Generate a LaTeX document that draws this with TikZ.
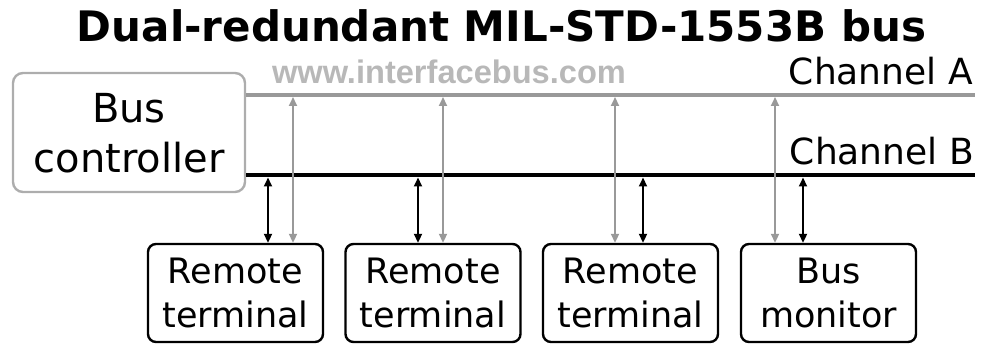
\documentclass[tikz,border=0pt]{standalone}
\usepackage{fontspec}
\setmainfont{DejaVu Sans}
\newfontfamily\webfont{Liberation Sans}
\usetikzlibrary{arrows.meta}
\definecolor{busgrey}{HTML}{999999}
\definecolor{framegrey}{HTML}{ADADAD}
\definecolor{webgrey}{HTML}{B8B8B8}
\tikzset{
  unitbox/.style={draw=black, line width=2.4pt, rounded corners=8pt,
    minimum width=175pt, minimum height=98pt, inner sep=0pt},
  ctrlbox/.style={draw=framegrey, line width=2.4pt, rounded corners=10pt,
    minimum width=232pt, minimum height=119pt, inner sep=0pt},
  boxtext/.style={anchor=base, inner sep=0pt, font=\fontsize{35}{42}\selectfont},
  ctrltext/.style={anchor=base, inner sep=0pt, font=\fontsize{40}{48}\selectfont},
  chantext/.style={anchor=base east, inner sep=0pt, font=\fontsize{36}{43}\selectfont},
  busA/.style={draw=busgrey, line width=4pt},
  busB/.style={draw=black, line width=4.5pt},
  tapA/.style={draw=busgrey, line width=2pt,
    {Triangle[length=9pt,width=8pt]}-{Triangle[length=9pt,width=8pt]}},
  tapB/.style={draw=black, line width=2pt,
    {Triangle[length=9pt,width=8pt]}-{Triangle[length=9pt,width=8pt]}},
}
\begin{document}
\begin{tikzpicture}[x=1pt, y=-1pt]
\useasboundingbox (0,0) rectangle (981,347);

% title and web address
\node[anchor=base, inner sep=0pt, font=\bfseries\fontsize{42}{50}\selectfont]
  (title) at (501.5,42) {Dual-redundant MIL-STD-1553B bus};
\node[anchor=base, inner sep=0pt, text=webgrey, font=\webfont\bfseries\fontsize{32.6}{38}\selectfont]
  (web) at (449,84) {www.interfacebus.com};

% bus controller
\node[ctrlbox] (bc) at (129,132.5) {};
\node[ctrltext] (bct1) at (bc.center |- 0,123) {Bus};
\node[ctrltext] (bct2) at (bc.center |- 0,173) {controller};

% terminals and monitor
\node[unitbox] (rt1) at (235.5,293) {};
\node[unitbox] (rt2) at (433,293) {};
\node[unitbox] (rt3) at (630.5,293) {};
\node[unitbox] (bm)  at (828.5,293) {};
\foreach \n/\a/\b in {rt1/Remote/terminal, rt2/Remote/terminal, rt3/Remote/terminal, bm/Bus/monitor}{
  \node[boxtext] (\n-l1) at (\n.center |- 0,283) {\a};
  \node[boxtext] (\n-l2) at (\n.center |- 0,327) {\b};
}

% the two bus channels
\coordinate (aW) at (bc.east |- 0,95);
\coordinate (aE) at (975,95);
\coordinate (bW) at (bc.east |- 0,175);
\coordinate (bE) at (975,175);
\draw[busA] (aW) -- (aE);
\draw[busB] (bW) -- (bE);
\node[chantext] (chA) at (973,85) {Channel A};
\node[chantext] (chB) at (974,165) {Channel B};

% stub taps on channel A (grey) and channel B (black)
\foreach \n/\xa/\xb in {rt1/293/268, rt2/443/418, rt3/615/643, bm/775/803}{
  \coordinate (\n-a) at (\xa,97);
  \coordinate (\n-b) at (\xb,177.5);
  \draw[tapA] (\n-a) -- (\n-a |- \n.north);
  \draw[tapB] (\n-b) -- (\n-b |- \n.north);
}
\end{tikzpicture}
\end{document}
